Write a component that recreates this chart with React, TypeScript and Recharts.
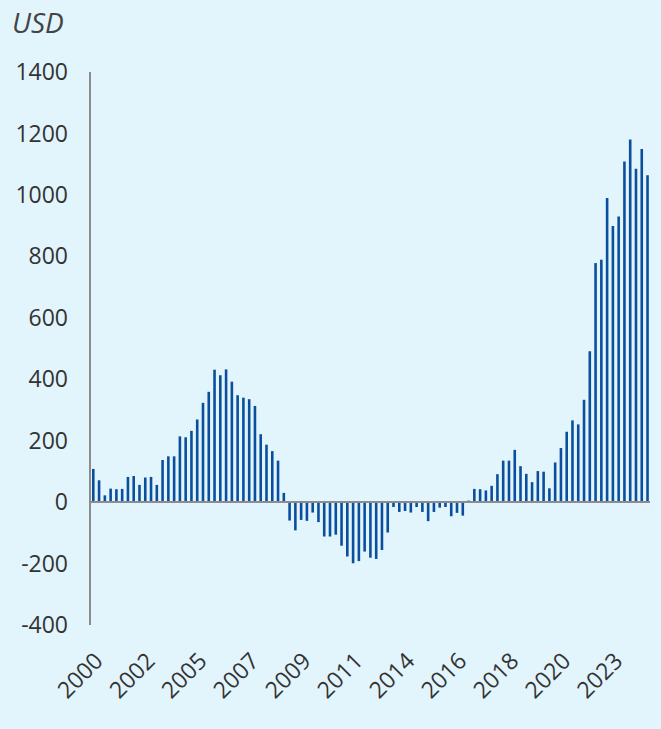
import React from "react";
import {
  BarChart,
  Bar,
  XAxis,
  YAxis,
  ReferenceLine,
} from "recharts";

// quarterly, 2000 Q1 .. 2024 Q1
const quarters: string[] = [];
for (let y = 2000; y <= 2024; y++) {
  for (let q = 1; q <= 4; q++) {
    if (y === 2024 && q > 1) break;
    quarters.push(`${y} Q${q}`);
  }
}

const values = [
  108, 71, 22, 44, 42, 43, 82, 85, 56, 80, 82, 56, 137, 149, 149, 214, 211,
  232, 269, 323, 359, 431, 413, 432, 392, 348, 340, 335, 313, 221, 187, 166,
  135, 30, -60, -92, -58, -61, -34, -65, -112, -112, -106, -142, -177, -199,
  -192, -161, -181, -185, -156, -99, -16, -32, -29, -34, -16, -32, -62, -32,
  -18, -16, -46, -35, -44, 5, 43, 42, 38, 53, 91, 135, 135, 170, 117, 92, 65,
  101, 99, 45, 129, 176, 229, 266, 253, 333, 491, 778, 789, 990, 899, 930,
  1109, 1180, 1085, 1149, 1064,
];

const tickQuarters = [
  "2000 Q1", "2002 Q2", "2004 Q3", "2006 Q4", "2009 Q1", "2011 Q2",
  "2013 Q3", "2015 Q4", "2018 Q1", "2020 Q2", "2022 Q3",
];
const tickLabels = [
  "2000", "2002", "2005", "2007", "2009", "2011", "2014", "2016", "2018",
  "2020", "2023",
];

const yTicks = [-400, -200, 0, 200, 400, 600, 800, 1000, 1200, 1400];

const data = quarters.map((q, i) => ({ q, value: values[i] }));

const font = "'Open Sans', 'Noto Sans', sans-serif";

export default function App() {
  return (
    <div
      style={{
        position: "fixed",
        left: 0,
        top: 0,
        width: 661,
        height: 729,
        background: "#e2f4fc",
        fontFamily: font,
      }}
    >
      <div
        style={{
          position: "absolute",
          left: 12,
          top: 8,
          fontSize: 28,
          lineHeight: 1,
          fontStyle: "italic",
          color: "#444",
        }}
      >
        USD
      </div>
      <BarChart
        width={661}
        height={729}
        data={data}
        margin={{ top: 72, right: 11, left: 0, bottom: 0 }}
      >
        <XAxis
          dataKey="q"
          ticks={tickQuarters}
          interval={0}
          tickFormatter={(v: string) => tickLabels[tickQuarters.indexOf(v)] ?? ""}
          angle={-45}
          textAnchor="end"
          axisLine={false}
          tickLine={false}
          tickMargin={20}
          height={104}
          tick={{ fontSize: 23, fill: "#333", fontFamily: font }}
        />
        <YAxis
          width={90}
          domain={[-400, 1400]}
          ticks={yTicks}
          interval={0}
          tickLine={false}
          tickMargin={16}
          axisLine={{ stroke: "#8c8c8c", strokeWidth: 2 }}
          tick={{ fontSize: 23, fill: "#333", fontFamily: font }}
        />
        <Bar
          dataKey="value"
          fill="#0a4f9e"
          barSize={2.6}
          isAnimationActive={false}
        />
        <ReferenceLine y={0} stroke="#8c8c8c" strokeWidth={2} />
      </BarChart>
    </div>
  );
}
